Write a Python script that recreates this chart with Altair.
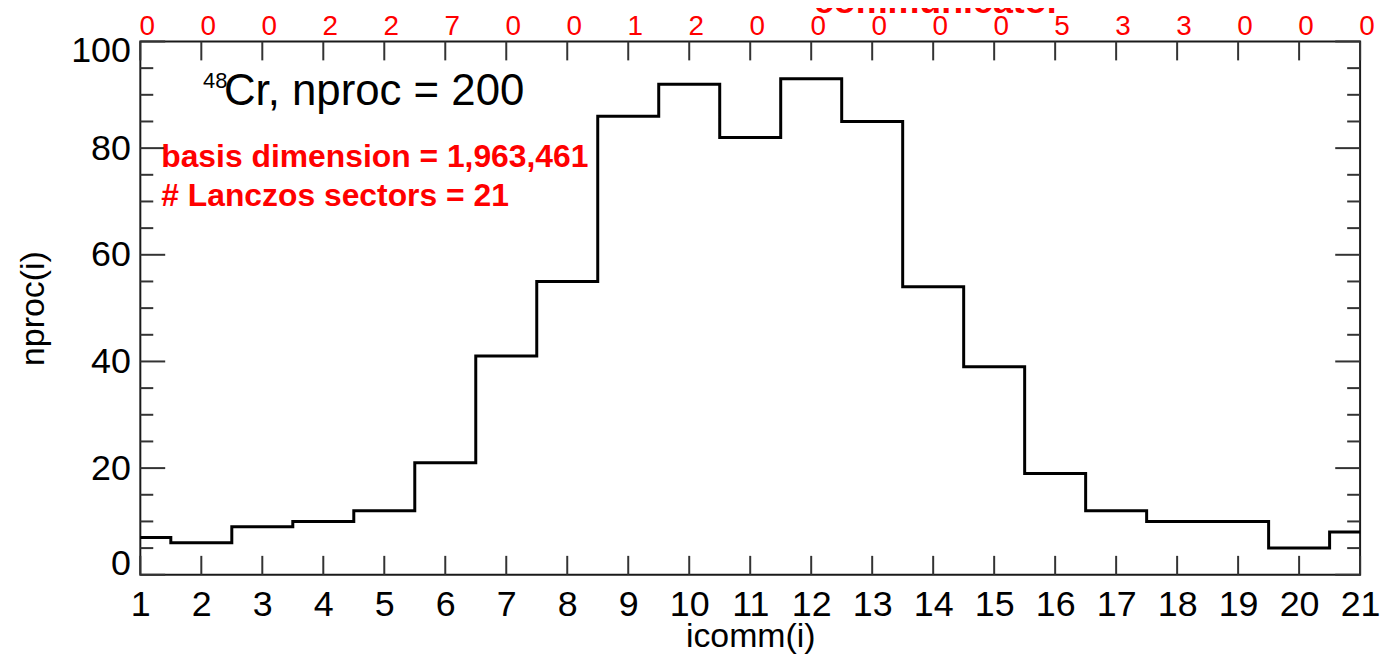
import altair as alt
import pandas as pd

# ---- data ----
icomm = list(range(1, 22))
nproc = [7, 6, 9, 10, 12, 21, 41, 55, 86, 92, 82, 93, 85, 54, 39, 19, 12, 10, 10, 5, 8]
top_counts = [0, 0, 0, 2, 2, 7, 0, 0, 1, 2, 0, 0, 0, 0, 0, 5, 3, 3, 0, 0, 0]
x_tick_values = list(range(1, 22))
y_major = [0, 20, 40, 60, 80, 100]
y_minor = [v for v in range(0, 101, 5) if v % 20 != 0]

title_sup = "48"
title_main = "Cr, nproc = 200"
red_line1 = "basis dimension = 1,963,461"
red_line2 = "# Lanczos sectors = 21"
top_title = "communicator"

W, H = 1226, 536
FONT = "Liberation Sans"
TICK_COLOR = "#333333"

df_line = pd.DataFrame({"x": icomm, "y": nproc})
df_top = pd.DataFrame({"x": icomm, "c": [str(c) for c in top_counts]})
df_xt = pd.DataFrame({"x": x_tick_values})
df_ymaj = pd.DataFrame({"y": y_major})
df_ymin = pd.DataFrame({"y": y_minor})

xs = alt.Scale(domain=[1, 21], nice=False, zero=False)
ys = alt.Scale(domain=[0, 100], nice=False, zero=False)

X_AXIS = alt.Axis(
    values=x_tick_values, format="d", title="icomm(i)",
    domain=False, ticks=False, tickSize=0, grid=False,
    labelFontSize=36, labelFont=FONT, labelColor="black",
    labelPadding=13, labelFlush=False, labelOverlap=False,
    titleFontSize=34, titleFont=FONT, titleFontWeight="normal",
    titleColor="black", titleY=72.5, titleBaseline="alphabetic")
Y_AXIS = alt.Axis(
    values=y_major, format="d", title="nproc(i)",
    domain=False, ticks=False, tickSize=0, grid=False,
    labelFontSize=36, labelFont=FONT, labelColor="black",
    labelPadding=10, labelFlush=True, labelFlushOffset=8, labelOverlap=False,
    titleFontSize=34, titleFont=FONT, titleFontWeight="normal",
    titleColor="black", titleAngle=270, titleX=-97, titleY=268,
    titleAlign="center", titleBaseline="alphabetic")

X = alt.X("x:Q", scale=xs, axis=X_AXIS, title="icomm(i)")
Y = alt.Y("y:Q", scale=ys, axis=Y_AXIS, title="nproc(i)")

line = alt.Chart(df_line).mark_line(
    interpolate="step", color="black", strokeWidth=3
).encode(x=X, y=Y)

tick_style = dict(color=TICK_COLOR, strokeWidth=2)

xt_bottom = alt.Chart(df_xt).mark_rule(**tick_style).encode(
    x=X, y=alt.value(H), y2=alt.value(H - 19))
xt_top = alt.Chart(df_xt).mark_rule(**tick_style).encode(
    x=X, y=alt.value(0), y2=alt.value(19))

yt_left_maj = alt.Chart(df_ymaj).mark_rule(**tick_style).encode(
    y=Y, x=alt.value(0), x2=alt.value(25))
yt_right_maj = alt.Chart(df_ymaj).mark_rule(**tick_style).encode(
    y=Y, x=alt.value(W), x2=alt.value(W - 25))
yt_left_min = alt.Chart(df_ymin).mark_rule(**tick_style).encode(
    y=Y, x=alt.value(0), x2=alt.value(13))
yt_right_min = alt.Chart(df_ymin).mark_rule(**tick_style).encode(
    y=Y, x=alt.value(W), x2=alt.value(W - 13))

top_labels = alt.Chart(df_top).mark_text(
    color="#ff0000", fontSize=28, font=FONT, baseline="alphabetic",
    align="center", dx=7
).encode(x=X, y=alt.value(-7), text="c:N")


def label(txt, x, y, size, color="black", weight="normal", align="left"):
    return alt.Chart(pd.DataFrame({"t": [txt]})).mark_text(
        fontSize=size, font=FONT, color=color, fontWeight=weight,
        align=align, baseline="alphabetic"
    ).encode(x=alt.value(x), y=alt.value(y), text="t:N")


ann = [
    label(title_sup, 63, 47, 22),
    label(title_main, 84, 64, 44),
    label(red_line1, 21, 126, 32, color="#ff0000", weight="bold"),
    label(red_line2, 21, 165, 32, color="#ff0000", weight="bold"),
    label(top_title, 801, -29, 36, color="#ff0000", weight="bold", align="center"),
]

chart = alt.layer(
    line, xt_bottom, xt_top, yt_left_maj, yt_right_maj, yt_left_min, yt_right_min,
    top_labels, *ann
).properties(
    width=W, height=H,
    autosize=alt.AutoSizeParams(type="none"),
    padding={"left": 133, "top": 32, "right": 20, "bottom": 80},
    background="white",
).configure_view(stroke="#1a1a1a", strokeWidth=2)

chart.save("out.html", embed_options={"renderer": "svg", "actions": False})
